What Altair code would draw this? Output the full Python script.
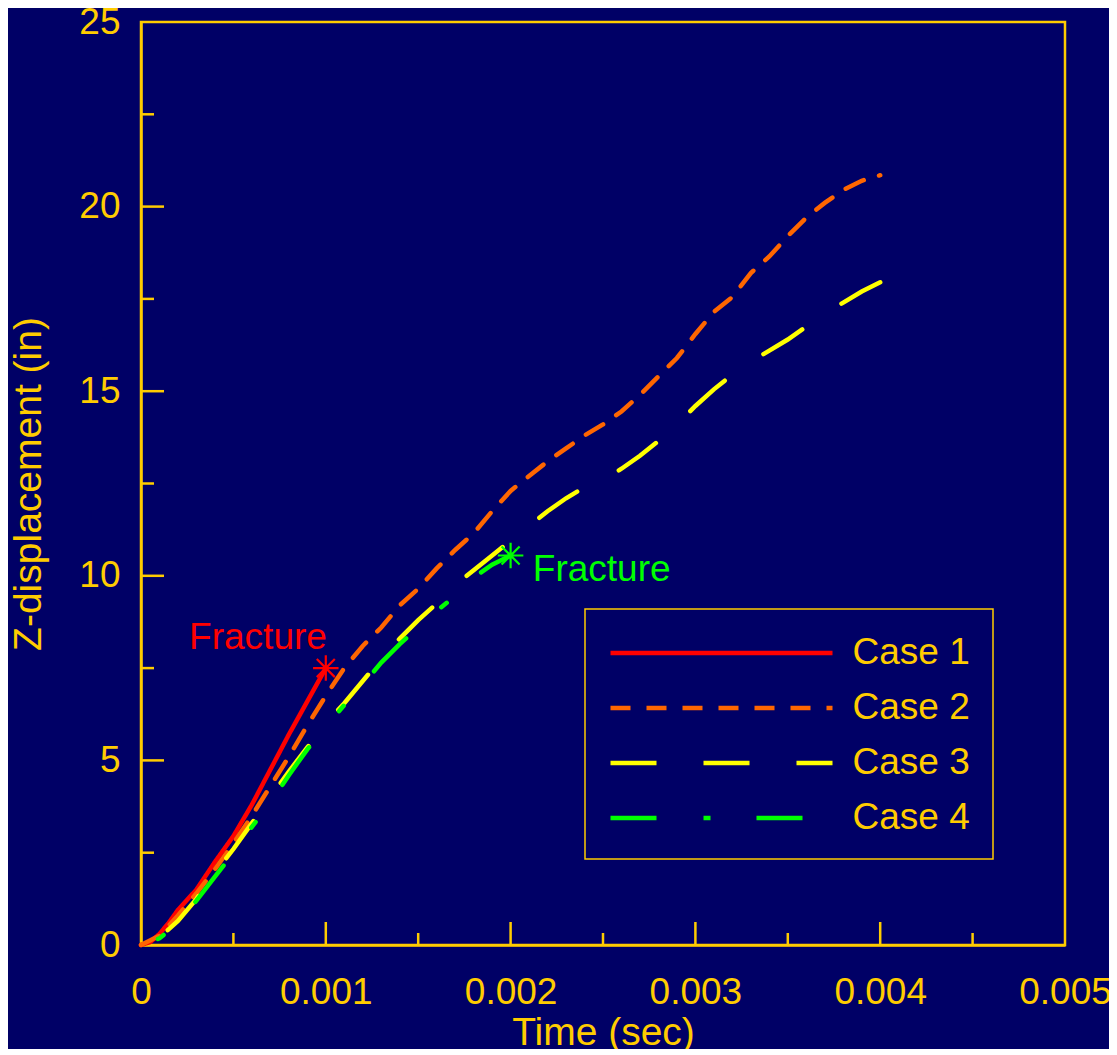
import altair as alt
import pandas as pd

BG = "#000066"
GOLD = "#FFCC00"
FONT = "Liberation Sans"

case_names = ["Case 1", "Case 2", "Case 3", "Case 4"]
case_colors = ["#FF0000", "#FF6600", "#FFFF00", "#00FF00"]
case_dashes = [[1, 0], [20, 16], [46, 47], [46, 47, 7, 46]]

# Case 1 (ends at fracture)
t1 = [0, 0.00005, 0.0001, 0.00015, 0.0002, 0.0003, 0.0004, 0.0005, 0.0006,
      0.0007, 0.0008, 0.0009, 0.001]
y1 = [0, 0.08, 0.3, 0.6, 0.95, 1.5, 2.25, 2.95, 3.8, 4.75, 5.7, 6.6, 7.5]

t_full = [0, 0.0001, 0.0002, 0.0003, 0.0004, 0.0005, 0.0006, 0.0007, 0.0008,
          0.0009, 0.001, 0.0011, 0.0012, 0.0013, 0.0014, 0.0015, 0.0016,
          0.0017, 0.0018, 0.0019, 0.002, 0.0021, 0.0022, 0.0023, 0.0024,
          0.0025, 0.0026, 0.0027, 0.0028, 0.0029, 0.003, 0.0031, 0.0032,
          0.0033, 0.0034, 0.0035, 0.0036, 0.0037, 0.0038, 0.0039, 0.004]
y2 = [0, 0.25, 0.8, 1.4, 2.05, 2.75, 3.5, 4.3, 5.1, 5.95, 6.75, 7.5, 8.1,
      8.6, 9.2, 9.65, 10.2, 10.7, 11.15, 11.75, 12.3, 12.7, 13.1, 13.45,
      13.8, 14.1, 14.45, 14.9, 15.4, 15.9, 16.55, 17.15, 17.55, 18.2, 18.65,
      19.2, 19.7, 20.1, 20.45, 20.7, 20.85]
y3 = [0, 0.2, 0.65, 1.25, 1.95, 2.6, 3.3, 4.0, 4.7, 5.35, 6.0, 6.55, 7.15,
      7.75, 8.3, 8.8, 9.25, 9.75, 10.15, 10.55, 10.95, 11.35, 11.75, 12.1,
      12.4, 12.6, 12.9, 13.25, 13.65, 14.1, 14.6, 15.05, 15.45, 15.8, 16.1,
      16.4, 16.75, 17.1, 17.4, 17.7, 17.95]
# Case 4 (ends at fracture)
t4 = [0, 0.0001, 0.0002, 0.0003, 0.0004, 0.0005, 0.0006, 0.0007, 0.0008,
      0.0009, 0.001, 0.0011, 0.0012, 0.0013, 0.0014, 0.0015, 0.0016, 0.0017,
      0.0018, 0.0019, 0.002]
y4 = [0, 0.18, 0.6, 1.2, 1.85, 2.5, 3.2, 3.85, 4.6, 5.3, 5.9, 6.5, 7.05,
      7.65, 8.15, 8.6, 9.05, 9.45, 9.95, 10.3, 10.55]

x_labels = [0, 0.001, 0.002, 0.003, 0.004, 0.005]
y_labels = [0, 5, 10, 15, 20, 25]
x_major = [0.001, 0.002, 0.003, 0.004]
x_minor = [0.0005, 0.0015, 0.0025, 0.0035, 0.0045]
y_major = [5, 10, 15, 20]
y_minor = [2.5, 7.5, 12.5, 17.5, 22.5]

frac_x = [0.001, 0.002]
frac_y = [7.5, 10.55]
frac_colors = ["#FF0000", "#00FF00"]
frac_label_x = [0.000633, 0.00212]
frac_label_y = [8.32, 10.16]
frac_align = ["center", "left"]

series = {"Case 1": (t1, y1), "Case 2": (t_full, y2),
          "Case 3": (t_full, y3), "Case 4": (t4, y4)}


def frame(names):
    rows = []
    for name in names:
        ts, ys = series[name]
        for t, y in zip(ts, ys):
            rows.append({"t": t, "z": y, "case": name})
    return pd.DataFrame(rows)


W, H = 924, 923
xscale = alt.Scale(domain=[0, 0.005], nice=False, zero=False)
yscale = alt.Scale(domain=[0, 25], nice=False, zero=False)

xaxis = alt.Axis(
    title="Time (sec)", values=x_labels, format="~g", ticks=False,
    tickSize=0, grid=False, domainColor=GOLD, domainWidth=2.5,
    labelColor=GOLD, labelFontSize=37, labelFont=FONT, labelPadding=29,
    labelFlush=False, labelOverlap=False, titleColor=GOLD,
    titleFontSize=39, titleFont=FONT, titleFontWeight="normal",
    titlePadding=3)
yaxis = alt.Axis(
    title="Z-displacement (in)", values=y_labels, ticks=False,
    tickSize=0, grid=False, domainColor=GOLD, domainWidth=2.5,
    labelColor=GOLD, labelFontSize=37, labelFont=FONT, labelPadding=21,
    labelFlush=False, labelOverlap=False, titleColor=GOLD,
    titleFontSize=39, titleFont=FONT, titleFontWeight="normal",
    titlePadding=30)

# long thin legend line: custom path spanning [-6, 6], scaled by sqrt(size)/2
SYM_PATH = "M-6,0L6,0"
leg = alt.Legend(
    orient="none", legendX=444, legendY=587, symbolType=SYM_PATH,
    symbolSize=1369, symbolStrokeWidth=4.5, symbolOffset=92.5,
    labelFont=FONT, labelFontSize=37, labelColor=GOLD, labelOffset=110,
    padding=23, rowPadding=16, fillColor=BG, strokeColor=GOLD,
    labelLimit=300,
)

enc = dict(
    x=alt.X("t:Q", scale=xscale, axis=xaxis),
    y=alt.Y("z:Q", scale=yscale, axis=yaxis),
    color=alt.Color("case:N", scale=alt.Scale(domain=case_names,
                                              range=case_colors),
                    legend=leg, title=None),
    strokeDash=alt.StrokeDash("case:N", scale=alt.Scale(domain=case_names,
                                                         range=case_dashes),
                              legend=leg, title=None),
)

layers = [
    alt.Chart(frame(["Case 1", "Case 2"])).mark_line(
        strokeWidth=4.5, strokeCap="round").encode(**enc),
    alt.Chart(frame(["Case 3"])).mark_line(
        strokeWidth=4.5, strokeCap="round", strokeDashOffset=62).encode(**enc),
    alt.Chart(frame(["Case 4"])).mark_line(
        strokeWidth=4.5, strokeCap="round", strokeDashOffset=75).encode(**enc),
]

for vals, ln in [(x_major, 23), (x_minor, 12)]:
    layers.append(alt.Chart(pd.DataFrame({"v": vals})).mark_rule(
        color=GOLD, strokeWidth=2.5).encode(
        x=alt.X("v:Q", scale=xscale, axis=xaxis),
        y=alt.value(H), y2=alt.value(H - ln)))
for vals, ln in [(y_major, 23), (y_minor, 13)]:
    layers.append(alt.Chart(pd.DataFrame({"v": vals})).mark_rule(
        color=GOLD, strokeWidth=2.5).encode(
        y=alt.Y("v:Q", scale=yscale, axis=yaxis),
        x=alt.value(0), x2=alt.value(ln)))

STAR = ("M-1,0L1,0M0,-1L0,1M-0.7071,-0.7071L0.7071,0.7071"
        "M-0.7071,0.7071L0.7071,-0.7071")
for i in range(2):
    pdf = pd.DataFrame({"x": [frac_x[i]], "y": [frac_y[i]]})
    layers.append(alt.Chart(pdf).mark_point(
        shape=STAR, size=650, filled=False, strokeWidth=2.2, opacity=1,
        color=frac_colors[i]).encode(
        x=alt.X("x:Q", scale=xscale, axis=xaxis),
        y=alt.Y("y:Q", scale=yscale, axis=yaxis)))
    tdf = pd.DataFrame({"x": [frac_label_x[i]], "y": [frac_label_y[i]],
                        "label": ["Fracture"]})
    layers.append(alt.Chart(tdf).mark_text(
        font=FONT, fontSize=37, color=frac_colors[i], align=frac_align[i],
        baseline="middle").encode(
        x=alt.X("x:Q", scale=xscale, axis=xaxis),
        y=alt.Y("y:Q", scale=yscale, axis=yaxis),
        text="label:N"))

chart = alt.layer(*layers).properties(
    width=W, height=H,
    padding={"left": 133, "top": 14, "right": 44, "bottom": 104},
    autosize=alt.AutoSizeParams(type="none"),
).configure(background=BG, font=FONT).configure_view(
    stroke=GOLD, strokeWidth=2.5).configure_legend(strokeWidth=1.5)

chart.save("out.html", embed_options={"renderer": "svg", "actions": False})
